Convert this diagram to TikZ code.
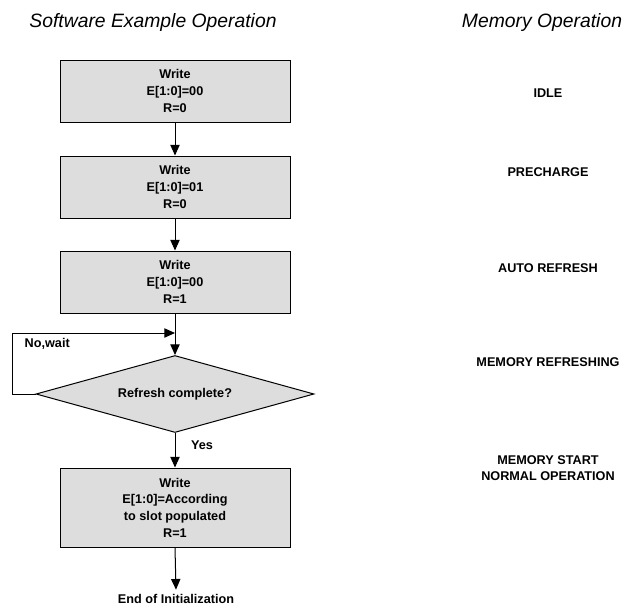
\documentclass[tikz,border=0pt]{standalone}
\usepackage{fontspec}
\setmainfont{Liberation Sans}
\usetikzlibrary{arrows.meta,shapes.geometric}
\definecolor{boxgray}{RGB}{221,221,221}
\tikzset{
  wbox/.style={draw,fill=boxgray,line width=0.75pt,minimum width=172.5pt,minimum height=46.5pt,align=center,inner sep=0pt},
  chkbox/.style={draw,fill=boxgray,line width=0.75pt,diamond,aspect=3.6,minimum width=208.5pt,minimum height=57.75pt,inner sep=0pt},
  memtxt/.style={align=center},
  ttl/.style={font=\fontsize{14.5}{17}\selectfont\itshape},
  arr/.style={line width=0.75pt,-{Triangle[length=8pt,width=7pt]}}
}
\begin{document}
\begin{tikzpicture}[x=0.75pt,y=0.75pt,yscale=-1,xscale=1,font=\fontsize{9.5}{12.5}\selectfont\bfseries]
\useasboundingbox (0,0) rectangle (626,607);

%Titles
\node[ttl] (swtitle) at (153,22) {Software Example Operation};
\node[ttl] (memtitle) at (542,22) {Memory Operation};

%Flow
\node[wbox] (w1) at (175,91) {Write\\E[1:0]=00\\R=0};
\node[wbox] (w2) at (175,187) {Write\\E[1:0]=01\\R=0};
\node[wbox] (w3) at (175,282) {Write\\E[1:0]=00\\R=1};
\node[chkbox] (chk) at (175,394) {Refresh complete?};
\node[wbox,minimum height=59.25pt] (w4) at (175,507.5) {Write\\E[1:0]=According\\ to slot populated\\R=1};
\node (fin) at (176,599) {End of Initialization};

\coordinate (loopL) at (12,394);
\coordinate (loopin) at (175,333);

\draw[arr] (w1) -- (w2);
\draw[arr] (w2) -- (w3);
\draw[arr] (w3) -- (chk);
\draw[arr] (chk.west) -- (loopL) |- (loopin);
\node[anchor=west] (nowait) at (20,344) {No,wait};
\draw[arr] (chk.south) -- (w4.north);
\node (yes) at (202,445) {Yes};
\draw[arr] (w4.south) -- (fin.north);

%Memory side
\node[memtxt] (idle) at (548,93) {IDLE};
\node[memtxt] (pre) at (548,172) {PRECHARGE};
\node[memtxt] (auto) at (548,268) {AUTO REFRESH};
\node[memtxt] (mref) at (548,362) {MEMORY REFRESHING};
\node[memtxt] (mstart) at (548,468) {MEMORY START\\NORMAL OPERATION};

\end{tikzpicture}
\end{document}
